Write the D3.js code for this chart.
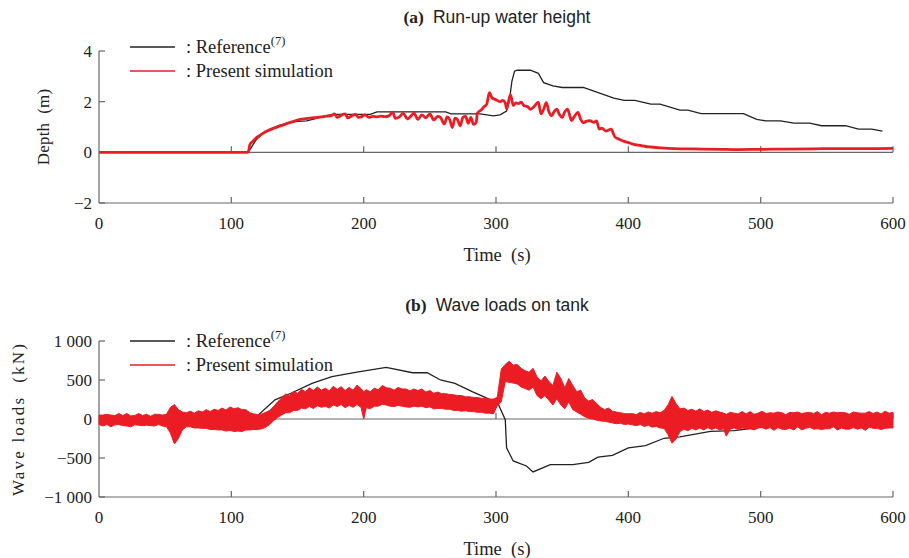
<!DOCTYPE html>
<html>
<head>
<meta charset="utf-8">
<script src="https://cdn.jsdelivr.net/npm/d3@7"></script>
<style>
  body { margin: 0; background: #fff; }
  svg { display: block; }
  .serif { font-family: "Liberation Serif", "DejaVu Serif", serif; fill: #222; }
  .sans { font-family: "Liberation Sans", Arial, sans-serif; fill: #222; }
</style>
</head>
<body>
<svg id="chart" width="909" height="558"></svg>
<script>
// ---- data ----
const timeTicks = [0, 100, 200, 300, 400, 500, 600];
const depthTicks = [-2, 0, 2, 4];
const loadTicks = [-1000, -500, 0, 500, 1000];

// (a) run-up water height, [time s, depth m]
const depthReference = [
  [0, 0], [112, 0], [114, 0.1], [117, 0.35], [119, 0.51], [124, 0.75], [129, 0.91],
  [136, 1.06], [144, 1.17], [150, 1.22], [157, 1.24], [163, 1.32], [170, 1.43],
  [177, 1.50], [205, 1.50], [210, 1.60], [262, 1.60], [266, 1.52], [288, 1.52],
  [298, 1.44], [303, 1.48], [308, 1.63], [310, 2.0], [312, 2.8], [314, 3.2],
  [316, 3.24], [326, 3.24], [332, 3.12], [336, 2.75], [343, 2.62], [350, 2.56],
  [366, 2.56], [374, 2.42], [389, 2.14], [397, 2.05], [405, 2.05], [417, 1.90],
  [424, 1.90], [439, 1.67], [445, 1.67], [455, 1.53], [487, 1.53], [497, 1.30],
  [504, 1.24], [515, 1.24], [525, 1.15], [537, 1.15], [546, 1.05], [564, 1.05],
  [574, 0.92], [584, 0.92], [592, 0.84]
];

const depthSimulation = [
  [0, 0], [112, 0], [113, 0.05], [114, 0.3], [116, 0.42], [119, 0.58], [123, 0.72],
  [127, 0.84], [132, 0.95], [137, 1.04], [144, 1.17], [152, 1.3], [158, 1.34],
  [163, 1.37], [168, 1.4], [172, 1.43], [175, 1.44], [178, 1.52], [180, 1.38],
  [183, 1.46], [186, 1.52], [188, 1.36], [191, 1.44], [194, 1.50], [196, 1.38],
  [199, 1.42], [201, 1.48], [204, 1.38], [207, 1.42], [210, 1.40], [213, 1.43],
  [216, 1.41], [219, 1.44], [222, 1.58], [224, 1.34], [227, 1.40], [230, 1.54],
  [233, 1.32], [236, 1.45], [238, 1.55], [241, 1.30], [244, 1.48], [247, 1.36],
  [250, 1.52], [253, 1.28], [256, 1.42], [258, 1.38], [261, 1.12], [263, 1.40],
  [265, 1.30], [267, 0.98], [269, 1.35], [271, 1.28], [273, 1.05], [275, 1.38],
  [277, 1.42], [279, 1.15], [281, 1.38], [283, 1.10], [285, 1.18], [286, 1.55],
  [289, 1.68], [291, 1.80], [293, 1.90], [295, 2.36], [297, 2.15], [299, 2.1],
  [301, 2.05], [303, 2.0], [305, 2.05], [307, 1.95], [308, 1.72], [309, 1.9],
  [311, 2.28], [313, 1.85], [315, 1.95], [317, 1.92], [319, 1.98], [321, 1.85],
  [324, 1.80], [326, 1.70], [329, 1.82], [332, 1.98], [334, 1.52], [336, 1.70],
  [338, 1.96], [340, 1.60], [342, 1.44], [344, 1.62], [346, 1.70], [348, 1.48],
  [350, 1.38], [352, 1.60], [354, 1.70], [356, 1.40], [357, 1.25], [359, 1.40],
  [362, 1.58], [364, 1.30], [366, 1.17], [368, 1.22], [371, 1.25], [374, 1.18],
  [376, 1.24], [378, 0.92], [380, 0.95], [383, 0.84], [385, 0.88], [387, 0.92],
  [389, 0.70], [390, 0.60], [393, 0.52], [396, 0.45], [399, 0.40], [402, 0.35],
  [405, 0.30], [409, 0.27], [413, 0.23], [417, 0.21], [424, 0.18], [430, 0.16],
  [440, 0.14], [455, 0.13], [470, 0.12], [480, 0.11], [500, 0.12], [520, 0.13],
  [540, 0.14], [560, 0.15], [580, 0.15], [600, 0.16]
];

// (b) wave loads on tank, [time s, load kN]
const loadReference = [
  [117, 0], [133, 245], [145, 330], [161, 457], [176, 542], [196, 605], [217, 661],
  [237, 593], [248, 593], [258, 500], [269, 457], [282, 351], [296, 245], [302, 181],
  [307, -8], [308, -370], [313, -538], [323, -602], [328, -679], [341, -586],
  [358, -586], [370, -555], [377, -488], [388, -466], [400, -370], [413, -340],
  [427, -247], [439, -230], [462, -158], [480, -149], [505, -94], [507, -85]
];

// simulated loads oscillate fast: upper / lower edge of the red band, [time s, high kN, low kN]
const loadSimulationBand = [
  [0, 50, -70], [3, 50, -90], [6, 60, -70], [9, 50, -100], [12, 45, -75], [15, 70, -70],
  [18, 45, -85], [21, 70, -90], [24, 40, -100], [27, 45, -75], [30, 70, -80], [33, 45, -85],
  [36, 60, -80], [39, 35, -85], [42, 60, -90], [45, 60, -70], [48, 50, -90], [51, 60, -100],
  [54, 150, -180], [57, 185, -320], [60, 120, -250], [63, 90, -140],
  [66, 80, -100], [69, 100, -100], [72, 75, -115], [75, 105, -115], [78, 90, -120],
  [81, 120, -120], [84, 95, -135], [87, 125, -135], [90, 110, -140], [93, 140, -140],
  [96, 115, -155], [99, 155, -145], [102, 130, -160], [105, 145, -155], [108, 120, -160],
  [111, 120, -140], [114, 80, -140], [117, 65, -135], [120, 55, -135], [123, 65, -125],
  [126, 85, -105], [129, 110, -70], [132, 160, -20], [135, 220, 20], [138, 270, 50],
  [141, 320, 80], [144, 300, 80], [147, 350, 110], [150, 330, 110], [153, 380, 140],
  [156, 350, 130], [159, 400, 160], [162, 365, 135], [165, 410, 170], [168, 370, 150],
  [171, 395, 165], [174, 360, 140], [177, 420, 180], [180, 380, 160], [183, 415, 185],
  [186, 365, 145], [189, 405, 175], [192, 370, 150], [195, 435, 185], [198, 390, 150],
  [200, 350, 0], [202, 375, 145], [205, 350, 130], [208, 395, 165], [211, 375, 165],
  [214, 430, 190], [217, 400, 180], [220, 395, 165], [223, 370, 160], [226, 405, 175],
  [229, 385, 165], [232, 385, 155], [235, 360, 150], [238, 385, 165], [241, 365, 155],
  [244, 385, 165], [247, 345, 145], [250, 365, 155], [253, 330, 130], [256, 345, 135],
  [259, 325, 135], [262, 325, 125], [265, 315, 125], [268, 310, 110], [271, 300, 110],
  [274, 300, 100], [277, 285, 105], [280, 285, 95], [283, 275, 95], [286, 275, 85],
  [289, 265, 85], [292, 265, 75], [295, 255, 75], [298, 255, 65], [301, 280, 170],
  [304, 640, 220], [307, 700, 480], [310, 740, 470], [313, 690, 460], [316, 700, 450],
  [319, 650, 410], [322, 620, 390], [325, 600, 370], [328, 650, 410], [331, 540, 300],
  [334, 490, 260], [337, 550, 300], [340, 480, 240], [343, 430, 180], [346, 600, 260],
  [349, 520, 180], [352, 400, 130], [355, 520, 220], [358, 430, 120], [361, 350, 90],
  [364, 370, 60], [367, 270, 30], [370, 230, 10], [373, 250, 0], [376, 200, -15],
  [379, 150, -25], [382, 120, -30], [385, 140, -40], [388, 100, -50], [391, 90, -60],
  [394, 80, -55], [397, 70, -70], [400, 65, -65], [403, 70, -75], [406, 55, -85],
  [409, 85, -70], [412, 65, -95], [415, 90, -80], [418, 75, -105], [421, 95, -95],
  [424, 80, -115], [427, 110, -120], [430, 180, -200], [433, 290, -310], [436, 200, -260],
  [439, 130, -160], [442, 140, -130], [445, 110, -150], [448, 125, -120], [451, 100, -140],
  [454, 130, -115], [457, 95, -140], [460, 115, -110], [463, 85, -135], [466, 105, -115],
  [469, 90, -140], [472, 75, -125], [474, 60, -220], [477, 85, -130],
  [480, 75, -115], [483, 65, -135], [486, 95, -115], [489, 65, -125], [492, 95, -125],
  [495, 60, -140], [498, 75, -115], [501, 100, -110], [504, 70, -130], [507, 80, -110],
  [510, 75, -145], [513, 90, -110], [516, 80, -130], [519, 55, -135], [522, 85, -115],
  [525, 80, -140], [528, 90, -100], [531, 70, -140], [534, 80, -120], [537, 85, -105],
  [540, 70, -130], [543, 95, -125], [546, 55, -135], [549, 85, -125], [552, 75, -125],
  [555, 90, -100], [558, 80, -140], [561, 85, -115], [564, 80, -130], [567, 60, -130],
  [570, 90, -110], [573, 80, -130], [576, 75, -115], [579, 75, -145], [582, 95, -105],
  [585, 70, -120], [588, 90, -120], [591, 65, -135], [594, 100, -120], [597, 75, -115],
  [600, 85, -115]
];

const RED = "#ec1c24";
const AXIS = "#666";

const svg = d3.select("#chart");
const plotLeft = 99;
const plotRight = 893;

const x = d3.scaleLinear().domain([0, 600]).range([plotLeft, plotRight]);

function fmtLoad(v) {
  const s = Math.abs(v) >= 1000 ? d3.format(",")(Math.abs(v)).replace(",", " ") : String(Math.abs(v));
  return (v < 0 ? "\u2212" : "") + s;
}

function drawPanel({ top, bottom, yDomain, yTicks, yFormat, letter, title, yLabel, yLabelX, yLabelSize, yLabelSpacing, titleY, legendY }) {
  const y = d3.scaleLinear().domain(yDomain).range([bottom, top]);
  const g = svg.append("g");

  // title: bold serif letter + sans text
  const t = g.append("text").attr("x", 497).attr("y", titleY).attr("text-anchor", "middle");
  t.append("tspan").attr("class", "serif").attr("font-weight", "bold").attr("font-size", 17.5).text(letter);
  t.append("tspan").attr("class", "sans").attr("font-size", 17.5).attr("dx", 9).text(title);

  // left spine with inward ticks
  g.append("line").attr("x1", plotLeft).attr("x2", plotLeft).attr("y1", top).attr("y2", bottom)
    .attr("stroke", AXIS).attr("stroke-width", 1.2);
  yTicks.forEach(v => {
    g.append("line").attr("x1", plotLeft).attr("x2", plotLeft + 6).attr("y1", y(v)).attr("y2", y(v))
      .attr("stroke", AXIS).attr("stroke-width", 1.2);
    g.append("text").attr("class", "serif").attr("font-size", 17).attr("text-anchor", "end")
      .attr("x", plotLeft - 7).attr("y", y(v) + 6).text(yFormat(v));
  });

  // bottom axis and zero line, both with upward ticks
  [y(yDomain[0]), y(0)].forEach(yy => {
    g.append("line").attr("x1", plotLeft).attr("x2", plotRight).attr("y1", yy).attr("y2", yy)
      .attr("stroke", AXIS).attr("stroke-width", 1.2);
    timeTicks.filter(v => v > 0).forEach(v => {
      g.append("line").attr("x1", x(v)).attr("x2", x(v)).attr("y1", yy).attr("y2", yy - 6)
        .attr("stroke", AXIS).attr("stroke-width", 1.2);
    });
  });
  timeTicks.forEach(v => {
    g.append("text").attr("class", "serif").attr("font-size", 17).attr("text-anchor", "middle")
      .attr("x", x(v)).attr("y", bottom + 26).text(v);
  });

  g.append("text").attr("class", "serif").attr("font-size", 18.5).attr("text-anchor", "middle")
    .attr("x", 497).attr("y", bottom + 58).attr("xml:space", "preserve").text("Time  (s)");
  g.append("text").attr("class", "serif").attr("font-size", yLabelSize).attr("text-anchor", "middle")
    .attr("letter-spacing", yLabelSpacing)
    .attr("transform", `translate(${yLabelX},${(top + bottom) / 2}) rotate(-90)`)
    .attr("xml:space", "preserve").text(yLabel);

  // legend
  const lg = g.append("g");
  [["#222", 1.3, legendY], [RED, 1.6, legendY + 24]].forEach(([c, w, ly]) => {
    lg.append("line").attr("x1", 130).attr("x2", 175).attr("y1", ly).attr("y2", ly)
      .attr("stroke", c).attr("stroke-width", w);
  });
  const ref = lg.append("text").attr("class", "serif").attr("font-size", 18.5).attr("x", 186).attr("y", legendY + 6);
  ref.append("tspan").text(": Reference");
  ref.append("tspan").attr("font-size", 12.5).attr("dy", -8).text("(7)");
  lg.append("text").attr("class", "serif").attr("font-size", 18.5).attr("x", 186).attr("y", legendY + 30)
    .text(": Present simulation");

  return { g, y };
}

// ---- panel (a) ----
const a = drawPanel({
  top: 51, bottom: 203, yDomain: [-2, 4], yTicks: depthTicks,
  yFormat: v => (v < 0 ? "\u2212" : "") + Math.abs(v),
  letter: "(a)", title: "Run-up water height", yLabel: "Depth  (m)", yLabelX: 49, yLabelSize: 17,
  yLabelSpacing: 0.2, titleY: 23, legendY: 47
});
const lineA = d3.line().x(d => x(d[0])).y(d => a.y(d[1]));
a.g.append("path").datum(depthReference).attr("d", lineA)
  .attr("fill", "none").attr("stroke", "#222").attr("stroke-width", 1.3);
a.g.append("path").datum(depthSimulation).attr("d", lineA.curve(d3.curveMonotoneX))
  .attr("fill", "none").attr("stroke", RED).attr("stroke-width", 2.8).attr("stroke-linejoin", "round");

// ---- panel (b) ----
const b = drawPanel({
  top: 341, bottom: 497, yDomain: [-1000, 1000], yTicks: loadTicks, yFormat: fmtLoad,
  letter: "(b)", title: "Wave loads on tank", yLabel: "Wave loads  (kN)", yLabelX: 24, yLabelSize: 17,
  yLabelSpacing: 2.2, titleY: 311, legendY: 341
});
const lineB = d3.line().x(d => x(d[0])).y(d => b.y(d[1]));
b.g.append("path").datum(loadReference).attr("d", lineB)
  .attr("fill", "none").attr("stroke", "#222").attr("stroke-width", 1.3);
const bandB = d3.area().x(d => x(d[0])).y0(d => b.y(d[2])).y1(d => b.y(d[1]));
b.g.append("path").datum(loadSimulationBand).attr("d", bandB)
  .attr("fill", RED).attr("stroke", RED).attr("stroke-width", 1).attr("stroke-linejoin", "miter");
</script>
</body>
</html>
